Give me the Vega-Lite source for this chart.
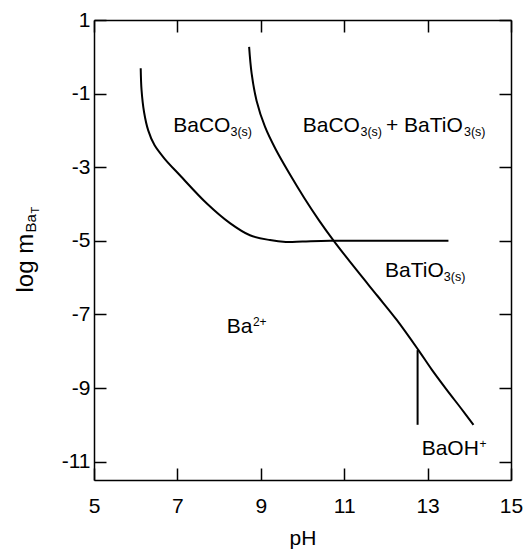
{
  "$schema": "https://vega.github.io/schema/vega-lite/v6.json",
  "width": 417,
  "height": 460,
  "autosize": "none",
  "padding": {"left": 94, "top": 20, "right": 14, "bottom": 69},
  "config": {
    "view": {"stroke": null},
    "font": "Liberation Sans",
    "axis": {
      "grid": false,
      "domainColor": "black",
      "domainWidth": 1.5,
      "tickColor": "black",
      "tickWidth": 1.5,
      "tickSize": -12,
      "labelColor": "black",
      "labelFontSize": 21,
      "labelFont": "Liberation Sans",
      "titleColor": "black",
      "titleFont": "Liberation Sans",
      "titleFontWeight": "normal"
    }
  },
  "datasets": {
    "curves": [
      {"curve": "BaCO3", "pH": 6.12, "logm": -0.31},
      {"curve": "BaCO3", "pH": 6.14, "logm": -0.9},
      {"curve": "BaCO3", "pH": 6.2, "logm": -1.5},
      {"curve": "BaCO3", "pH": 6.3, "logm": -2.0},
      {"curve": "BaCO3", "pH": 6.45, "logm": -2.4},
      {"curve": "BaCO3", "pH": 6.7, "logm": -2.78},
      {"curve": "BaCO3", "pH": 7.06, "logm": -3.22},
      {"curve": "BaCO3", "pH": 7.7, "logm": -3.98},
      {"curve": "BaCO3", "pH": 8.26, "logm": -4.52},
      {"curve": "BaCO3", "pH": 8.74, "logm": -4.85},
      {"curve": "BaCO3", "pH": 9.22, "logm": -4.98},
      {"curve": "BaCO3", "pH": 9.6, "logm": -5.03},
      {"curve": "BaCO3", "pH": 10.0, "logm": -5.02},
      {"curve": "BaCO3", "pH": 10.66, "logm": -5.0},
      {"curve": "BaCO3", "pH": 13.5, "logm": -5.0},
      {"curve": "BaTiO3", "pH": 8.72, "logm": 0.27},
      {"curve": "BaTiO3", "pH": 8.78, "logm": -0.45},
      {"curve": "BaTiO3", "pH": 8.9, "logm": -1.2},
      {"curve": "BaTiO3", "pH": 9.1, "logm": -1.9},
      {"curve": "BaTiO3", "pH": 9.35, "logm": -2.5},
      {"curve": "BaTiO3", "pH": 9.7, "logm": -3.2},
      {"curve": "BaTiO3", "pH": 10.05, "logm": -3.85},
      {"curve": "BaTiO3", "pH": 10.4, "logm": -4.45},
      {"curve": "BaTiO3", "pH": 10.75, "logm": -5.0},
      {"curve": "BaTiO3", "pH": 11.3, "logm": -5.8},
      {"curve": "BaTiO3", "pH": 11.8, "logm": -6.5},
      {"curve": "BaTiO3", "pH": 12.26, "logm": -7.15},
      {"curve": "BaTiO3", "pH": 12.78, "logm": -7.97},
      {"curve": "BaTiO3", "pH": 13.1, "logm": -8.5},
      {"curve": "BaTiO3", "pH": 13.46, "logm": -9.05},
      {"curve": "BaTiO3", "pH": 13.8, "logm": -9.55},
      {"curve": "BaTiO3", "pH": 14.1, "logm": -10.0}
    ],
    "rule": [{"pH": 12.76, "y1": -7.97, "y2": -10.0}],
    "mainText": [
      {"pH": 6.9, "logm": -2.035, "text": "BaCO"},
      {"pH": 10.005, "logm": -2.035, "text": "BaCO"},
      {"pH": 12.0, "logm": -2.035, "text": "+ BaTiO"},
      {"pH": 11.978, "logm": -5.976, "text": "BaTiO"},
      {"pH": 8.182, "logm": -7.514, "text": "Ba"},
      {"pH": 12.858, "logm": -10.82, "text": "BaOH"}
    ],
    "subText": [
      {"pH": 8.273, "logm": -2.035, "text": "3(s)"},
      {"pH": 11.39, "logm": -2.035, "text": "3(s)"},
      {"pH": 13.873, "logm": -2.035, "text": "3(s)"},
      {"pH": 13.39, "logm": -5.976, "text": "3(s)"}
    ],
    "supText": [
      {"pH": 8.81, "logm": -7.514, "text": "2+"},
      {"pH": 14.245, "logm": -10.82, "text": "+"}
    ]
  },
  "layer": [
    {
      "data": {"name": "curves"},
      "mark": {"type": "line", "color": "black", "strokeWidth": 2, "interpolate": "catmull-rom"},
      "encoding": {
        "detail": {"field": "curve"},
        "x": {
          "field": "pH", "type": "quantitative",
          "scale": {"domain": [5, 15], "nice": false, "zero": false},
          "axis": {
            "orient": "bottom", "values": [5, 7, 9, 11, 13, 15],
            "labelPadding": 27, "labelFlush": false,
            "title": "pH", "titleFontSize": 21,
            "titleX": 208.5, "titleY": 64, "titleAlign": "center", "titleBaseline": "alphabetic"
          }
        },
        "y": {
          "field": "logm", "type": "quantitative",
          "scale": {"domain": [-11.5, 1], "nice": false, "zero": false},
          "axis": {
            "orient": "left", "values": [1, -1, -3, -5, -7, -9, -11],
            "labelExpr": "'' + datum.value",
            "labelPadding": 16, "labelFlush": false,
            "title": "log m", "titleFontSize": 24, "titleAngle": 270,
            "titleX": -62, "titleY": 272, "titleAlign": "left", "titleBaseline": "alphabetic"
          }
        }
      }
    },
    {
      "data": {"name": "rule"},
      "mark": {"type": "rule", "color": "black", "strokeWidth": 2},
      "encoding": {
        "x": {
          "field": "pH", "type": "quantitative",
          "scale": {"domain": [5, 15], "nice": false, "zero": false},
          "axis": {
            "orient": "top", "values": [5, 7, 9, 11, 13, 15], "labels": false,
            "title": "T", "titleFontSize": 11, "titleAngle": 270,
            "titleX": -56, "titleY": 193, "titleAlign": "left", "titleBaseline": "alphabetic"
          }
        },
        "y": {
          "field": "y1", "type": "quantitative",
          "scale": {"domain": [-11.5, 1], "nice": false, "zero": false},
          "axis": {
            "orient": "right", "values": [1, -1, -3, -5, -7, -9, -11], "labels": false,
            "title": "Ba", "titleFontSize": 15, "titleAngle": 270,
            "titleX": -476, "titleY": 212, "titleAlign": "left", "titleBaseline": "alphabetic"
          }
        },
        "y2": {"field": "y2"}
      }
    },
    {
      "data": {"name": "mainText"},
      "mark": {"type": "text", "align": "left", "baseline": "alphabetic", "fontSize": 21, "color": "black"},
      "encoding": {
        "x": {"field": "pH", "type": "quantitative", "scale": {"domain": [5, 15], "nice": false, "zero": false}, "axis": null},
        "y": {"field": "logm", "type": "quantitative", "scale": {"domain": [-11.5, 1], "nice": false, "zero": false}, "axis": null},
        "text": {"field": "text"}
      }
    },
    {
      "data": {"name": "subText"},
      "mark": {"type": "text", "align": "left", "baseline": "alphabetic", "fontSize": 12.5, "dy": 4, "color": "black"},
      "encoding": {
        "x": {"field": "pH", "type": "quantitative", "scale": {"domain": [5, 15], "nice": false, "zero": false}, "axis": null},
        "y": {"field": "logm", "type": "quantitative", "scale": {"domain": [-11.5, 1], "nice": false, "zero": false}, "axis": null},
        "text": {"field": "text"}
      }
    },
    {
      "data": {"name": "supText"},
      "mark": {"type": "text", "align": "left", "baseline": "alphabetic", "fontSize": 12, "dy": -7, "color": "black"},
      "encoding": {
        "x": {"field": "pH", "type": "quantitative", "scale": {"domain": [5, 15], "nice": false, "zero": false}, "axis": null},
        "y": {"field": "logm", "type": "quantitative", "scale": {"domain": [-11.5, 1], "nice": false, "zero": false}, "axis": null},
        "text": {"field": "text"}
      }
    }
  ],
  "resolve": {"axis": {"x": "independent", "y": "independent"}}
}
